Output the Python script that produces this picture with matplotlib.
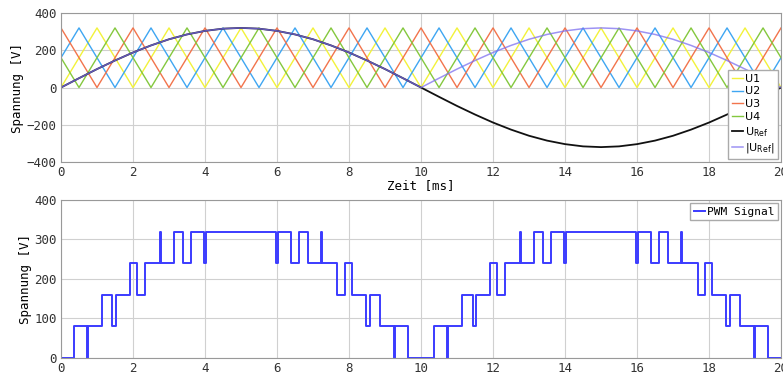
import matplotlib
matplotlib.use("Agg")
import matplotlib.pyplot as plt

# carrier vertices (time in ms, voltage in V)
u1_t = [0, 1, 2, 3, 4, 5, 6, 7, 8, 9, 10, 11, 12, 13, 14, 15, 16, 17, 18, 19, 20]
u1_v = [0, 320, 0, 320, 0, 320, 0, 320, 0, 320, 0, 320, 0, 320, 0, 320, 0, 320, 0, 320, 0]

u2_t = [0, 0.5, 1.5, 2.5, 3.5, 4.5, 5.5, 6.5, 7.5, 8.5, 9.5, 10.5, 11.5, 12.5, 13.5,
        14.5, 15.5, 16.5, 17.5, 18.5, 19.5, 20]
u2_v = [160, 320, 0, 320, 0, 320, 0, 320, 0, 320, 0, 320, 0, 320, 0,
        320, 0, 320, 0, 320, 0, 160]

u3_t = [0, 1, 2, 3, 4, 5, 6, 7, 8, 9, 10, 11, 12, 13, 14, 15, 16, 17, 18, 19, 20]
u3_v = [320, 0, 320, 0, 320, 0, 320, 0, 320, 0, 320, 0, 320, 0, 320, 0, 320, 0, 320, 0, 320]

u4_t = [0, 0.5, 1.5, 2.5, 3.5, 4.5, 5.5, 6.5, 7.5, 8.5, 9.5, 10.5, 11.5, 12.5, 13.5,
        14.5, 15.5, 16.5, 17.5, 18.5, 19.5, 20]
u4_v = [160, 0, 320, 0, 320, 0, 320, 0, 320, 0, 320, 0, 320, 0, 320,
        0, 320, 0, 320, 0, 320, 160]

# reference voltage sampled every 0.5 ms
ref_t = [0, 0.5, 1, 1.5, 2, 2.5, 3, 3.5, 4, 4.5, 5, 5.5, 6, 6.5, 7, 7.5, 8, 8.5, 9, 9.5,
         10, 10.5, 11, 11.5, 12, 12.5, 13, 13.5, 14, 14.5, 15, 15.5, 16, 16.5, 17, 17.5,
         18, 18.5, 19, 19.5, 20]
ref_v = [0, 50, 99, 145, 188, 226, 259, 285, 304, 316, 320, 316, 304, 285, 259, 226,
         188, 145, 99, 50, 0, -50, -99, -145, -188, -226, -259, -285, -304, -316, -320,
         -316, -304, -285, -259, -226, -188, -145, -99, -50, 0]
ref_abs = [0, 50, 99, 145, 188, 226, 259, 285, 304, 316, 320, 316, 304, 285, 259, 226,
           188, 145, 99, 50, 0, 50, 99, 145, 188, 226, 259, 285, 304, 316, 320,
           316, 304, 285, 259, 226, 188, 145, 99, 50, 0]

# PWM output: switching instants (ms) and level after each switch (V)
pwm_t = [0, 0.36, 0.72, 0.76, 1.13, 1.43, 1.53, 1.91, 2.12, 2.32, 2.74, 2.78, 3.14, 3.40,
         3.60, 3.98, 4.02, 5.98, 6.02, 6.40, 6.60, 6.86, 7.22, 7.26, 7.68, 7.88, 8.09,
         8.47, 8.57, 8.87, 9.24, 9.28, 9.64,
         10.36, 10.72, 10.76, 11.13, 11.43, 11.53, 11.91, 12.12, 12.32, 12.74, 12.78,
         13.14, 13.40, 13.60, 13.98, 14.02, 15.98, 16.02, 16.40, 16.60, 16.86, 17.22,
         17.26, 17.68, 17.88, 18.09, 18.47, 18.57, 18.87, 19.24, 19.28, 19.64, 20]
pwm_v = [0, 80, 0, 80, 160, 80, 160, 240, 160, 240, 320, 240, 320, 240,
         320, 240, 320, 240, 320, 240, 320, 240, 320, 240, 160, 240, 160,
         80, 160, 80, 0, 80, 0,
         80, 0, 80, 160, 80, 160, 240, 160, 240, 320, 240,
         320, 240, 320, 240, 320, 240, 320, 240, 320, 240, 320,
         240, 160, 240, 160, 80, 160, 80, 0, 80, 0, 0]

mono = "DejaVu Sans Mono"
plt.rcParams['font.family'] = mono
plt.rcParams['font.size'] = 9

fig = plt.figure(figsize=(7.83, 3.74), dpi=100)
ax1 = fig.add_axes([0.0779, 0.5668, 0.9196, 0.3984])
ax2 = fig.add_axes([0.0779, 0.0428, 0.9196, 0.4225])

# top: carriers and reference
ax1.plot(u1_t, u1_v, color='#f2f23a', lw=1, label='U1')
ax1.plot(u2_t, u2_v, color='#3fa6f2', lw=1, label='U2')
ax1.plot(u3_t, u3_v, color='#f2744c', lw=1, label='U3')
ax1.plot(u4_t, u4_v, color='#84c83e', lw=1, label='U4')
ax1.plot(ref_t, ref_v, color='#111111', lw=1.3, label=r'U$_{\mathrm{Ref}}$')
ax1.plot(ref_t, ref_abs, color='#7d6ff0', lw=1.1, alpha=0.75, label=r'|U$_{\mathrm{Ref}}$|')

ax1.set_xlim(0, 20)
ax1.set_ylim(-400, 400)
ax1.set_xticks(range(0, 21, 2))
ax1.set_yticks([-400, -200, 0, 200, 400])
ax1.set_ylabel('Spannung [V]', labelpad=2)
ax1.set_xlabel('Zeit [ms]', labelpad=0)
leg1 = ax1.legend(loc='lower right', fontsize=8, handlelength=1.0, handletextpad=0.2,
                  borderpad=0.3, labelspacing=0.25, borderaxespad=0.3,
                  fancybox=False, framealpha=1, prop={'family': 'DejaVu Sans', 'size': 8})
leg1.get_frame().set_edgecolor('#aaaaaa')

# bottom: PWM output
ax2.step(pwm_t, pwm_v, where='post', color='#3b3bff', lw=1.4, label='PWM Signal')
ax2.set_xlim(0, 20)
ax2.set_ylim(0, 400)
ax2.set_xticks(range(0, 21, 2))
ax2.set_yticks([0, 100, 200, 300, 400])
ax2.set_ylabel('Spannung [V]', labelpad=2)
leg2 = ax2.legend(loc='upper right', fontsize=8, handlelength=1.0, handletextpad=0.2,
                  borderpad=0.3, borderaxespad=0.3, fancybox=False, framealpha=1)
leg2.get_frame().set_edgecolor('#aaaaaa')

for ax in (ax1, ax2):
    ax.grid(True, color='#d0d0d0', lw=0.8)
    ax.set_axisbelow(True)
    for s in ax.spines.values():
        s.set_color('#999999')
    ax.tick_params(colors='#333333', length=0, pad=3, labelsize=9)

fig.savefig('out.png', dpi=100)
